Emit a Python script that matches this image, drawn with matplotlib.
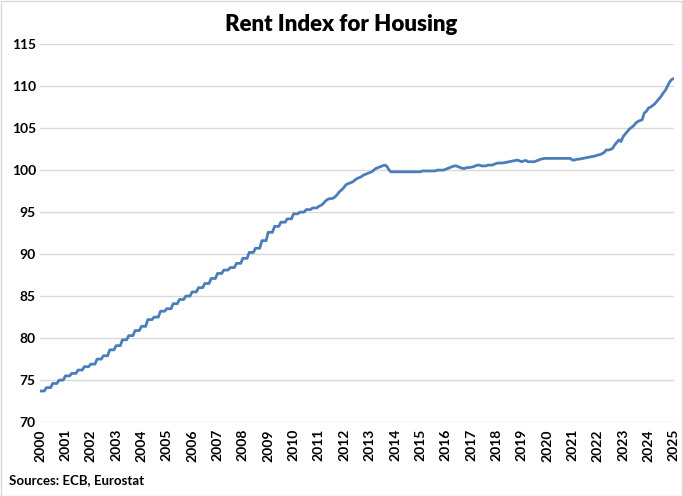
import numpy as np
import matplotlib
matplotlib.use("Agg")
import matplotlib.pyplot as plt
from matplotlib.patches import Rectangle

plt.rcParams['font.family'] = ['Lato', 'DejaVu Sans']

# monthly rent index, Jan 2000 .. Jan 2025
rent_index = [
    73.7, 73.7, 73.7, 74.1, 74.1, 74.1, 74.6, 74.6, 74.6, 75.0, 75.0, 75.0,  # 2000
    75.5, 75.5, 75.5, 75.8, 75.8, 75.8, 76.2, 76.2, 76.2, 76.6, 76.6, 76.6,  # 2001
    76.9, 76.9, 76.9, 77.5, 77.5, 77.5, 77.9, 77.9, 77.9, 78.6, 78.6, 78.6,  # 2002
    79.1, 79.1, 79.1, 79.8, 79.8, 79.8, 80.3, 80.3, 80.3, 80.9, 80.9, 80.9,  # 2003
    81.4, 81.4, 81.4, 82.2, 82.2, 82.2, 82.5, 82.5, 82.5, 83.2, 83.2, 83.2,  # 2004
    83.5, 83.5, 83.5, 84.1, 84.1, 84.1, 84.6, 84.6, 84.6, 85.0, 85.0, 85.0,  # 2005
    85.5, 85.5, 85.5, 86.0, 86.0, 86.0, 86.5, 86.5, 86.5, 87.1, 87.1, 87.1,  # 2006
    87.7, 87.7, 87.7, 88.1, 88.1, 88.1, 88.4, 88.4, 88.4, 88.9, 88.9, 88.9,  # 2007
    89.5, 89.5, 89.5, 90.2, 90.2, 90.2, 90.7, 90.7, 90.7, 91.6, 91.6, 91.6,  # 2008
    92.6, 92.6, 92.6, 93.3, 93.3, 93.3, 93.8, 93.8, 93.8, 94.2, 94.2, 94.2,  # 2009
    94.8, 94.8, 94.8, 95.0, 95.0, 95.0, 95.3, 95.3, 95.3, 95.5, 95.5, 95.5,  # 2010
    95.7, 95.8, 96.0, 96.3, 96.5, 96.6, 96.6, 96.7, 96.9, 97.2, 97.5, 97.7,  # 2011
    98.0, 98.3, 98.4, 98.5, 98.6, 98.8, 99.0, 99.1, 99.2, 99.4, 99.5, 99.6,  # 2012
    99.7, 99.8, 100.0, 100.2, 100.3, 100.4, 100.5, 100.6, 100.5, 100.1, 99.8, 99.8,  # 2013
    99.8, 99.8, 99.8, 99.8, 99.8, 99.8, 99.8, 99.8, 99.8, 99.8, 99.8, 99.8,  # 2014
    99.8, 99.9, 99.9, 99.9, 99.9, 99.9, 99.9, 99.9, 100.0, 100.0, 100.0, 100.0,  # 2015
    100.1, 100.2, 100.3, 100.4, 100.5, 100.5, 100.4, 100.3, 100.2, 100.2, 100.3, 100.3,  # 2016
    100.35, 100.4, 100.5, 100.6, 100.6, 100.5, 100.5, 100.5, 100.6, 100.6, 100.6, 100.7,  # 2017
    100.8, 100.85, 100.85, 100.85, 100.9, 100.95, 101.0, 101.05, 101.1, 101.15, 101.2, 101.1,  # 2018
    101.0, 101.1, 101.15, 101.0, 101.0, 101.0, 101.0, 101.1, 101.2, 101.3, 101.35, 101.4,  # 2019
    101.4, 101.4, 101.4, 101.4, 101.4, 101.4, 101.4, 101.4, 101.4, 101.4, 101.4, 101.4,  # 2020
    101.2, 101.2, 101.3, 101.3, 101.35, 101.4, 101.45, 101.5, 101.55, 101.6, 101.65, 101.7,  # 2021
    101.8, 101.85, 101.95, 102.1, 102.4, 102.4, 102.45, 102.6, 103.0, 103.3, 103.6, 103.4,  # 2022
    104.0, 104.3, 104.6, 104.9, 105.1, 105.3, 105.6, 105.8, 105.9, 106.0, 106.8, 107.0,  # 2023
    107.4, 107.5, 107.7, 107.9, 108.2, 108.5, 108.8, 109.2, 109.5, 110.0, 110.5, 110.8,  # 2024
    110.9,  # Jan 2025
]
year_labels = [str(y) for y in range(2000, 2026)]
y_ticks = [70, 75, 80, 85, 90, 95, 100, 105, 110, 115]

months = 2000 + np.arange(len(rent_index)) / 12.0

fig = plt.figure(figsize=(6.83, 4.96), dpi=100)
ax = fig.add_axes([0.0586, 0.149, 0.928, 0.762])

ax.plot(months, rent_index, color='#4A7EBB', linewidth=2.0)

ax.set_xlim(2000, 2025)
ax.set_ylim(70, 115)
ax.set_yticks(y_ticks)
ax.set_yticklabels([str(v) for v in y_ticks], fontweight='bold', fontsize=10)
ax.set_xticks(range(2000, 2026))
ax.set_xticklabels(year_labels, rotation=90, fontweight='bold', fontsize=10)
ax.tick_params(axis='y', length=0, pad=3)
ax.tick_params(axis='x', length=0, pad=5)
ax.grid(axis='y', color='#D9D9D9', linewidth=1)
ax.set_axisbelow(True)
for s in ax.spines.values():
    s.set_visible(False)

fig.text(0.5, 0.951, "Rent Index for Housing", ha='center', va='center',
         fontsize=16, fontweight='heavy')
fig.text(0.013, 0.032, "Sources: ECB, Eurostat", ha='left', va='center',
         fontsize=9.5, fontweight='bold')

# thin outline around the chart
fig.patches.append(Rectangle((0.001, 0.001), 0.997, 0.997, transform=fig.transFigure,
                             fill=False, edgecolor='#D9D9D9', linewidth=1))

fig.savefig("out.png", dpi=100)
